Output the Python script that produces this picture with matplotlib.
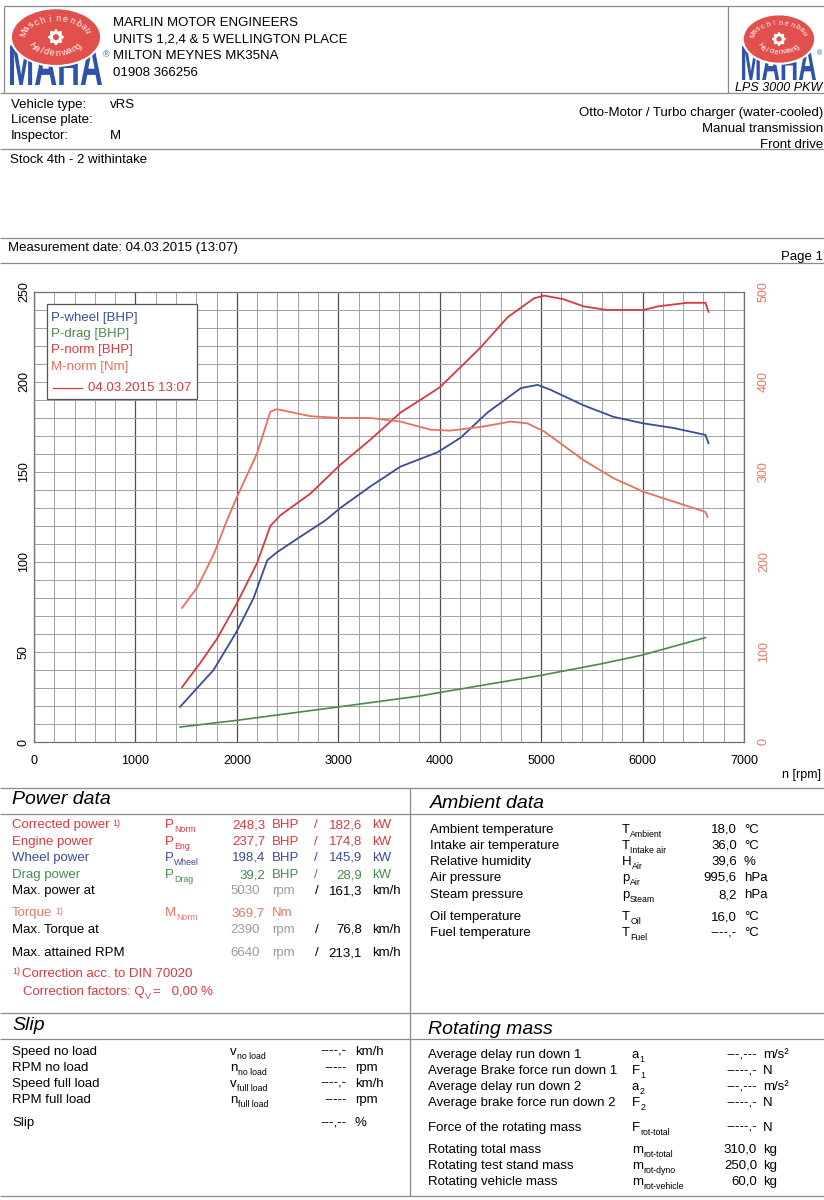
import matplotlib
matplotlib.use('Agg')
import matplotlib.pyplot as plt
from matplotlib.patches import Rectangle, Ellipse, Polygon, Circle, PathPatch
from matplotlib.textpath import TextPath
from matplotlib.font_manager import FontProperties
from matplotlib.transforms import Affine2D
from matplotlib import font_manager
import numpy as np

# ---------------- data ----------------
rpm_pnorm = [1460, 1640, 1800, 2000, 2200, 2330, 2430, 2725, 3020, 3317, 3613, 4000,
             4400, 4670, 4930, 5030, 5220, 5420, 5650, 6010, 6150, 6440, 6620, 6650]
p_norm = [30.5, 44, 57, 77, 99.5, 120, 126, 138, 154, 168, 183, 197,
          219, 236, 246.5, 248, 246, 242, 240, 240, 242, 244, 244, 239]

rpm_pwheel = [1440, 1770, 1995, 2165, 2300, 2400, 2625, 2870, 3020, 3317, 3613, 3980,
              4205, 4470, 4800, 4965, 5095, 5420, 5715, 6010, 6310, 6620, 6650]
p_wheel = [19.5, 40, 61, 80, 101, 105.6, 114, 123, 130, 142, 153, 161,
           169, 183, 196.6, 198.4, 195.6, 187, 180.6, 177, 174.4, 170.6, 166]

rpm_torque = [1460, 1610, 1770, 1905, 2000, 2200, 2330, 2390, 2430, 2725, 3020, 3317,
              3613, 3910, 4105, 4400, 4700, 4865, 5030, 5420, 5715, 6010, 6310, 6620, 6640]
m_norm = [149, 172, 208, 247, 272, 321, 367, 369.7, 369, 362, 360, 360,
          356, 347, 346, 350, 356, 354, 345, 313, 293, 278, 267, 255.6, 250]

rpm_drag = [1440, 1995, 2990, 3810, 3990, 4995, 5590, 5990, 6620]
p_drag = [8.3, 12, 19.4, 25.6, 27.4, 37, 43.4, 48.2, 58]

x_ticks = [0, 1000, 2000, 3000, 4000, 5000, 6000, 7000]
left_ticks = [0, 50, 100, 150, 200, 250]
right_ticks = [0, 100, 200, 300, 400, 500]

legend_labels = ['P-wheel [BHP]', 'P-drag [BHP]', 'P-norm [BHP]', 'M-norm [Nm]']
legend_run = '04.03.2015 13:07'

header_lines = ['MARLIN MOTOR ENGINEERS', 'UNITS 1,2,4 & 5 WELLINGTON PLACE',
                'MILTON MEYNES MK35NA', '01908 366256']
vehicle_right = ['Otto-Motor / Turbo charger (water-cooled)', 'Manual transmission', 'Front drive']

power_rows = [
    ('Corrected power', True, 'P', 'Norm', '248,3', 'BHP', '182,6', 'kW', 'red'),
    ('Engine power', False, 'P', 'Eng', '237,7', 'BHP', '174,8', 'kW', 'red'),
    ('Wheel power', False, 'P', 'Wheel', '198,4', 'BHP', '145,9', 'kW', 'blue'),
    ('Drag power', False, 'P', 'Drag', '39,2', 'BHP', '28,9', 'kW', 'green'),
]
max_rows = [
    ('Max. power at', '5030', '161,3'),
    ('Max. Torque at', '2390', '76,8'),
    ('Max. attained RPM', '6640', '213,1'),
]
ambient_rows = [
    ('Ambient temperature', 'T', 'Ambient', '18,0', '°C'),
    ('Intake air temperature', 'T', 'Intake air', '36,0', '°C'),
    ('Relative humidity', 'H', 'Air', '39,6', '%'),
    ('Air pressure', 'p', 'Air', '995,6', 'hPa'),
    ('Steam pressure', 'p', 'Steam', '8,2', 'hPa'),
    ('Oil temperature', 'T', 'Oil', '16,0', '°C'),
    ('Fuel temperature', 'T', 'Fuel', '----,-', '°C'),
]
slip_rows = [
    ('Speed no load', 'v', 'no load', '----,-', 'km/h'),
    ('RPM no load', 'n', 'no load', '-----', 'rpm'),
    ('Speed full load', 'v', 'full load', '----,-', 'km/h'),
    ('RPM full load', 'n', 'full load', '-----', 'rpm'),
    ('Slip', '', '', '---,--', '%'),
]
rot_rows = [
    ('Average delay run down 1', 'a', '1', '---,---', 'm/s²'),
    ('Average Brake force run down 1', 'F', '1', '-----,-', 'N'),
    ('Average delay run down 2', 'a', '2', '---,---', 'm/s²'),
    ('Average brake force run down 2', 'F', '2', '-----,-', 'N'),
    ('Force of the rotating mass', 'F', 'rot-total', '-----,-', 'N'),
    ('Rotating total mass', 'm', 'rot-total', '310,0', 'kg'),
    ('Rotating test stand mass', 'm', 'rot-dyno', '250,0', 'kg'),
    ('Rotating vehicle mass', 'm', 'rot-vehicle', '60,0', 'kg'),
]

# ---------------- style ----------------
names = {f.name for f in font_manager.fontManager.ttflist}
FONT = 'Liberation Sans' if 'Liberation Sans' in names else 'DejaVu Sans'
plt.rcParams['font.family'] = [FONT, 'DejaVu Sans']

RED = '#d8393f'
SALMON = '#e8705c'
SALMON_T = '#e27766'
BLUE = '#3a4c98'
GREEN = '#4b8a4b'
GRAY = '#9c9c9c'
LINE = '#8a8a8a'
LOGO_RED = '#e2504e'
LOGO_BLUE = '#2f53a8'
COL = {'red': RED, 'blue': BLUE, 'green': GREEN}

W, H = 824, 1200
fig = plt.figure(figsize=(W / 100, H / 100), dpi=100)
fig.patch.set_facecolor('white')
renderer = fig.canvas.get_renderer()

# ---------------- chart ----------------
cx0, cx1, cy0, cy1 = 34, 744, 292, 742
ax = fig.add_axes([cx0 / W, 1 - cy1 / H, (cx1 - cx0) / W, (cy1 - cy0) / H])
ax.set_xlim(0, 7000)
ax.set_ylim(0, 250)
ax.set_xticks(x_ticks)
ax.set_xticklabels([str(v) for v in x_ticks], fontsize=9)
ax.set_xticks(np.arange(0, 7001, 200), minor=True)
ax.set_yticks(left_ticks)
ax.set_yticklabels([str(v) for v in left_ticks], fontsize=9, rotation=90, va='center')
ax.set_yticks(np.arange(0, 251, 10), minor=True)
ax.tick_params(which='both', length=0)
ax.tick_params(axis='x', pad=9)
ax.tick_params(axis='y', pad=3)
ax.grid(which='minor', color='#a2a2a2', lw=0.7)
ax.grid(which='major', axis='y', color='#a2a2a2', lw=0.7)
ax.grid(which='major', axis='x', color='#505050', lw=0.9)
ax.set_axisbelow(True)
for s in ax.spines.values():
    s.set_color('#707070')
    s.set_linewidth(0.9)

ax.plot(rpm_drag, p_drag, color=GREEN, lw=1.2, zorder=3)
ax.plot(rpm_pwheel, p_wheel, color=BLUE, lw=1.3, zorder=3)
ax.plot(rpm_pnorm, p_norm, color=RED, lw=1.3, zorder=3)

ax2 = ax.twinx()
ax2.set_ylim(0, 500)
ax2.set_yticks(right_ticks)
ax2.set_yticklabels([str(v) for v in right_ticks], fontsize=9, rotation=90, va='center', color=SALMON_T)
ax2.tick_params(length=0, pad=10)
for s in ax2.spines.values():
    s.set_visible(False)
ax2.plot(rpm_torque, m_norm, color=SALMON, lw=1.3, zorder=3)

# ---------------- page overlay ----------------
pg = fig.add_axes([0, 0, 1, 1], zorder=10)
pg.set_xlim(0, W)
pg.set_ylim(H, 0)
pg.axis('off')
pg.patch.set_alpha(0)


def hline(y, x0=0, x1=W, c=LINE, lw=0.9):
    pg.plot([x0, x1], [y, y], color=c, lw=lw, solid_capstyle='butt')


def vline(x, y0, y1, c=LINE, lw=0.9):
    pg.plot([x, x], [y0, y1], color=c, lw=lw, solid_capstyle='butt')


def txt(x, y, s, size=9.5, color='black', ha='left', **kw):
    return pg.text(x, y, s, fontsize=size, color=color, ha=ha, va='center', **kw)


def right_end(t):
    bb = t.get_window_extent(renderer=renderer)
    return pg.transData.inverted().transform((bb.x1, bb.y0))[0]


def sym(x, y, main, sub, color='black', size=9.5):
    t = txt(x, y, main, size=size, color=color)
    xe = right_end(t)
    txt(xe + 0.3, y + 4.5, sub, size=size * 0.66, color=color)


def sup_label(x, y, main, color, size=9.5):
    t = txt(x, y, main, size=size, color=color)
    xe = right_end(t)
    txt(xe + 3, y - 2, '1)', size=size * 0.66, color=color)


def gear(cx, cy, r):
    n = 16
    pts = []
    for i in range(n):
        a = 2 * np.pi * i / n
        rr = r if i % 2 == 0 else r * 0.68
        pts.append((cx + rr * np.cos(a), cy + rr * np.sin(a)))
    pg.add_patch(Polygon(pts, closed=True, color='white', zorder=5))
    pg.add_patch(Circle((cx, cy), r * 0.3, color=LOGO_RED, zorder=6))


def arc_text(s, cx, cy, rx, ry, t0, t1, size, upper=True):
    ths = np.linspace(t0, t1, len(s))
    for ch, t in zip(s, ths):
        tr = np.radians(t)
        x = cx + rx * np.cos(tr)
        y = cy - ry * np.sin(tr)
        rot = t - 90 if upper else t + 90
        pg.text(x, y, ch, fontsize=size, color='white', ha='center', va='center',
                rotation=rot, zorder=6)


def block_text(s, x0, y0, x1, y1, color, z):
    tp = TextPath((0, 0), s, size=1, prop=FontProperties(family=FONT, weight='bold'))
    ext = tp.get_extents()
    tr = (Affine2D().translate(-ext.x0, -ext.y0)
          .scale((x1 - x0) / ext.width, -(y1 - y0) / ext.height)
          .translate(x0, y1))
    pg.add_patch(PathPatch(tr.transform_path(tp), facecolor=color, edgecolor='none',
                           transform=pg.transData, zorder=z))


def logo(x0, y0, w, h, fs_arc):
    cx = x0 + w * 0.5
    block_text('MAHA', x0, y0 + h * 0.48, x0 + w, y0 + h, LOGO_BLUE, 3)
    ey = y0 + h * 0.37
    pg.add_patch(Ellipse((cx, ey), w * 0.98, h * 0.76, facecolor=LOGO_RED,
                         edgecolor='white', lw=1.5, zorder=4))
    gear(cx, ey, h * 0.1)
    arc_text('Maschinenbau', cx, ey, w * 0.36, h * 0.24, 165, 22, fs_arc, True)
    arc_text('Haldenwang', cx, ey, w * 0.3, h * 0.21, 210, 325, fs_arc, False)
    pg.text(x0 + w + 1, y0 + h * 0.6, '®', fontsize=fs_arc, color=LOGO_BLUE,
            ha='left', va='center')


# header frame
hline(6, 4, W)
vline(4, 6, 93)
vline(728, 6, 93)
hline(93)
hline(149)
hline(238)
hline(263)

logo(10, 9, 92, 76, 6.5)
logo(742, 15, 74, 65, 5.2)
pg.text(735, 88, 'LPS 3000 PKW', fontsize=9, style='italic', ha='left', va='center')

for i, s in enumerate(header_lines):
    txt(113, 23 + i * 16.7, s, size=9.5)

txt(11, 105, 'Vehicle type:')
txt(110, 105, 'vRS')
txt(11, 120, 'License plate:')
txt(11, 136, 'Inspector:')
txt(110, 136, 'M')
for i, s in enumerate(vehicle_right):
    txt(823, 113 + i * 16, s, ha='right')
txt(10, 160, 'Stock 4th - 2 withintake')
txt(8, 248, 'Measurement date: 04.03.2015 (13:07)')
txt(823, 257, 'Page 1', ha='right')

# legend
pg.add_patch(Rectangle((47, 304), 150, 95, facecolor='white', edgecolor='#555555', lw=0.9, zorder=7))
leg_cols = [BLUE, GREEN, RED, SALMON]
for i, (lab, c) in enumerate(zip(legend_labels, leg_cols)):
    pg.text(51, 318 + i * 16.2, lab, fontsize=9.5, color=c, ha='left', va='center', zorder=8)
pg.plot([53, 82], [388, 388], color=RED, lw=0.9, zorder=8)
pg.text(88, 388, legend_run, fontsize=9.5, color=RED, ha='left', va='center', zorder=8)

txt(782, 775, 'n [rpm]', size=9)

# tables frame
hline(788)
vline(410, 788, 1196)
hline(814)
hline(1013)
hline(1039)
hline(1196)

pg.text(12, 800, 'Power data', fontsize=14, style='italic', ha='left', va='center')
pg.text(430, 804, 'Ambient data', fontsize=14, style='italic', ha='left', va='center')
pg.text(12, 1026, 'Slip', fontsize=14, style='italic', ha='left', va='center')
pg.text(428, 1029, 'Rotating mass', fontsize=14, style='italic', ha='left', va='center')

# power data
ys = [825, 842, 858, 875]
for y, (lab, fn, s1, s2, v1, u1, v2, u2, c) in zip(ys, power_rows):
    col = COL[c]
    if fn:
        sup_label(12, y, lab, col)
    else:
        txt(12, y, lab, color=col)
    sym(165, y, s1, s2, color=col)
    txt(265, y, v1, color=col, ha='right')
    txt(272, y, u1, color=col)
    txt(314, y, '/', color=col)
    txt(362, y, v2, color=col, ha='right')
    txt(372, y, u2, color=col)

sup_label(12, 913, 'Torque', SALMON_T)
sym(165, 913, 'M', 'Norm', color=SALMON_T)
txt(265, 913, '369,7', color=SALMON_T, ha='right')
txt(272, 913, 'Nm', color=SALMON_T)

for y, (lab, r, v) in zip([891, 930, 953], max_rows):
    txt(12, y, lab)
    txt(260, y, r, color=GRAY, ha='right')
    txt(272, y, 'rpm', color=GRAY)
    txt(315, y, '/')
    txt(362, y, v, ha='right')
    txt(372, y, 'km/h')

txt(12, 972, '1)', size=6.3, color=RED)
txt(22, 974, 'Correction acc. to DIN 70020', color=RED)
t = txt(23, 992, 'Correction factors: Q', color=RED)
xe = right_end(t)
txt(xe + 0.3, 996.5, 'V', size=6.3, color=RED)
txt(xe + 8, 992, '=   0,00 %', color=RED)

# ambient
ys = [830, 846, 862, 878, 895, 917, 933]
for y, (lab, s1, s2, v, u) in zip(ys, ambient_rows):
    txt(430, y, lab)
    sym(622, y, s1, s2)
    txt(737, y, v, ha='right')
    txt(744, y, u)

# slip
ys = [1052, 1068, 1084, 1100, 1123]
for y, (lab, s1, s2, v, u) in zip(ys, slip_rows):
    txt(12, y, lab)
    if s1:
        sym(230, y, s1, s2)
    txt(347, y, v, ha='right')
    txt(355, y, u)

# rotating mass
ys = [1055, 1071, 1087, 1103, 1128, 1150, 1166, 1182]
for y, (lab, s1, s2, v, u) in zip(ys, rot_rows):
    txt(428, y, lab)
    sym(632, y, s1, s2)
    txt(757, y, v, ha='right')
    txt(763, y, u)

fig.savefig('out.png', dpi=100, facecolor='white')
